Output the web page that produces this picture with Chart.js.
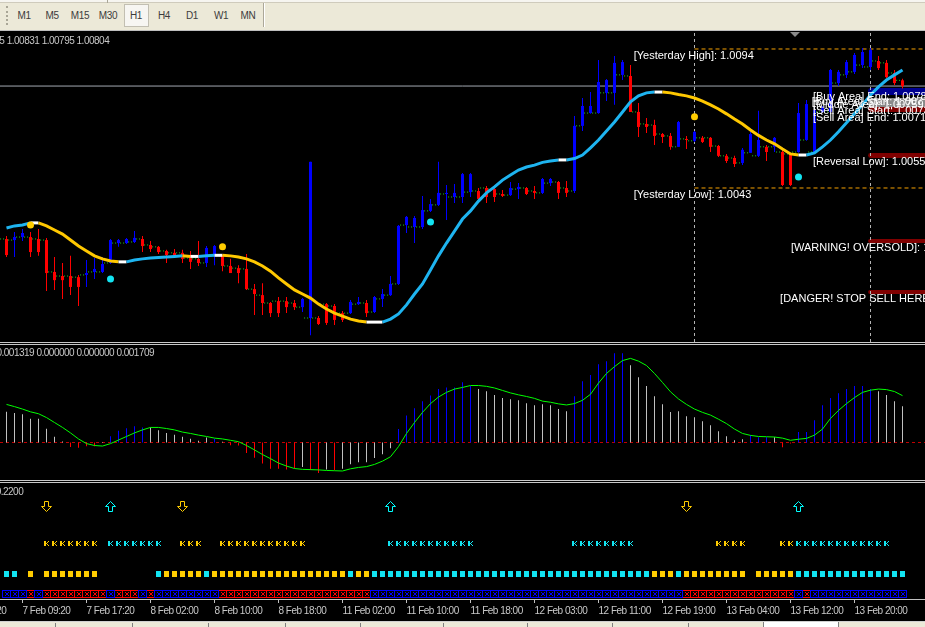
<!DOCTYPE html>
<html>
<head>
<meta charset="utf-8">
<title>H1 chart</title>
<script src="https://cdn.jsdelivr.net/npm/chart.js@4.4.1/dist/chart.umd.min.js"></script>
<style>
  html, body { margin: 0; padding: 0; width: 925px; height: 627px; overflow: hidden; background: #000; }
  #tb { position: absolute; left: 0; top: 0; width: 925px; height: 30px; background: #ECE9D8;
        font: 10px "Liberation Sans", sans-serif; letter-spacing: -0.4px; color: #3c3c3c; }
  #tb span { position: absolute; top: 10px; width: 28px; text-align: center; line-height: 12px; }
  .ln { position: absolute; left: 0; width: 925px; height: 1px; }
  .bx { position: absolute; }
  canvas { position: absolute; left: 0; }
</style>
</head>
<body>
<div id="tb">
  <div class="bx" style="left:0;top:0;width:925px;height:2px;background:#F6F5F0;border-bottom:1px solid #CFCBBC"></div>
  <div class="bx" style="left:107px;top:0;width:1px;height:3px;background:#A9A696"></div>
  <div class="bx" style="left:6px;top:6px;width:0;height:19px;border-left:2px dotted #A9A696"></div>
  <div class="bx" style="left:124px;top:4px;width:23px;height:21px;border:1px solid #C2BFB2;background:#F7F6F2"></div>
  <span style="left:10px">M1</span>
  <span style="left:38px">M5</span>
  <span style="left:66px">M15</span>
  <span style="left:94px">M30</span>
  <span style="left:122px">H1</span>
  <span style="left:150px">H4</span>
  <span style="left:178px">D1</span>
  <span style="left:207px">W1</span>
  <span style="left:234px">MN</span>
  <div class="bx" style="left:263px;top:3px;width:1px;height:24px;background:#ACA899"></div>
  <div class="bx" style="left:264px;top:3px;width:1px;height:24px;background:#FFFFFF"></div>
</div>
<div class="ln" style="top:30px;background:#BEBEBE"></div>
<canvas id="main" width="925" height="311" style="top:31px"></canvas>
<div class="ln" style="top:342px;background:#C8C8C8"></div>
<div class="ln" style="top:344px;background:#C8C8C8"></div>
<canvas id="osc" width="925" height="135" style="top:345px"></canvas>
<div class="ln" style="top:480px;background:#C8C8C8"></div>
<div class="ln" style="top:482px;background:#C8C8C8"></div>
<canvas id="sig" width="925" height="138" style="top:483px"></canvas>
<div class="ln" style="top:621px;background:#D0D0D0"></div>
<div class="bx" style="left:0;top:622px;width:925px;height:5px;background:#ECE9D8"></div>
<div class="bx" style="left:763px;top:622px;width:74px;height:5px;background:#FFFFFF;border-left:1px solid #808080;border-right:1px solid #808080"></div>
<div class="bx" style="left:55px;top:623px;width:1px;height:4px;background:#808080"></div>
<div class="bx" style="left:132px;top:623px;width:1px;height:4px;background:#808080"></div>
<div class="bx" style="left:208px;top:623px;width:1px;height:4px;background:#808080"></div>
<div class="bx" style="left:285px;top:623px;width:1px;height:4px;background:#808080"></div>
<div class="bx" style="left:360px;top:623px;width:1px;height:4px;background:#808080"></div>
<div class="bx" style="left:443px;top:623px;width:1px;height:4px;background:#808080"></div>
<div class="bx" style="left:527px;top:623px;width:1px;height:4px;background:#808080"></div>
<div class="bx" style="left:612px;top:623px;width:1px;height:4px;background:#808080"></div>
<div class="bx" style="left:688px;top:623px;width:1px;height:4px;background:#808080"></div>
<script>
// ---------- data (H1 bars, oldest first) ----------
const open = [
  1.00243,1.00239,1.00250,1.00250,1.00243,1.00239,1.00122,1.00107,1.00107,1.00103,
  1.00111,1.00122,1.00122,1.00155,1.00228,1.00228,1.00232,1.00243,1.00221,1.00214,
  1.00199,1.00192,1.00192,1.00173,1.00170,1.00155,1.00181,1.00181,1.00144,1.00136,
  1.00133,1.00059,1.00037,1.00008,1.00015,1.00015,1.00008,0.99993,0.99953,0.99953,
  1.00004,0.99997,0.99971,0.99971,1.00004,1.00008,0.99975,1.00023,1.00037,1.00078,
  1.00294,1.00287,1.00287,1.00346,1.00368,1.00408,1.00397,1.00397,1.00415,1.00419,
  1.00430,1.00426,1.00408,1.00404,1.00426,1.00430,1.00419,1.00412,1.00448,1.00452,
  1.00430,1.00419,1.00658,1.00705,1.00705,1.00779,1.00779,1.00845,1.00841,1.00709,
  1.00665,1.00661,1.00628,1.00621,1.00581,1.00610,1.00603,1.00614,1.00614,1.00584,
  1.00548,1.00540,1.00522,1.00559,1.00548,1.00581,1.00581,1.00562,1.00555,1.00562,
  1.00606,1.00562,1.00709,1.00709,1.00815,1.00845,1.00856,1.00881,1.00874,1.00896,
  1.00889,1.00852,1.00825];
const high = [
  1.00254,1.00269,1.00280,1.00269,1.00280,1.00247,1.00177,1.00155,1.00181,1.00111,
  1.00166,1.00173,1.00177,1.00243,1.00243,1.00247,1.00272,1.00254,1.00236,1.00217,
  1.00203,1.00206,1.00203,1.00199,1.00236,1.00217,1.00221,1.00184,1.00170,1.00147,
  1.00188,1.00078,1.00081,1.00012,1.00030,1.00030,1.00019,1.00026,1.00526,0.99960,
  1.00008,1.00004,0.99979,1.00019,1.00030,1.00019,1.00034,1.00059,1.00107,1.00294,
  1.00327,1.00327,1.00401,1.00390,1.00526,1.00441,1.00445,1.00485,1.00485,1.00430,
  1.00437,1.00430,1.00423,1.00452,1.00448,1.00434,1.00437,1.00467,1.00467,1.00456,
  1.00456,1.00694,1.00760,1.00782,1.00900,1.00830,1.00914,1.00900,1.00881,1.00742,
  1.00687,1.00680,1.00632,1.00632,1.00676,1.00621,1.00639,1.00621,1.00617,1.00588,
  1.00555,1.00548,1.00577,1.00636,1.00713,1.00588,1.00617,1.00570,1.00559,1.00742,
  1.00753,1.00724,1.00731,1.00867,1.00863,1.00900,1.00925,1.00944,1.00944,1.00914,
  1.00900,1.00863,1.00831];
const low = [
  1.00177,1.00177,1.00236,1.00177,1.00181,1.00052,1.00056,1.00023,1.00037,0.99997,
  1.00067,1.00096,1.00118,1.00151,1.00214,1.00225,1.00228,1.00195,1.00195,1.00188,
  1.00155,1.00177,1.00155,1.00133,1.00144,1.00140,1.00147,1.00125,1.00118,1.00081,
  1.00056,0.99964,0.99964,0.99957,0.99957,0.99971,0.99982,0.99975,0.99890,0.99927,
  0.99927,0.99927,0.99938,0.99968,1.00001,0.99957,0.99971,0.99993,1.00034,1.00074,
  1.00265,1.00228,1.00280,1.00342,1.00364,1.00313,1.00375,1.00375,1.00397,1.00379,
  1.00375,1.00379,1.00397,1.00401,1.00390,1.00404,1.00390,1.00408,1.00437,1.00390,
  1.00397,1.00412,1.00639,1.00702,1.00702,1.00749,1.00735,1.00826,1.00709,1.00617,
  1.00632,1.00588,1.00595,1.00570,1.00581,1.00573,1.00599,1.00595,1.00562,1.00544,
  1.00522,1.00507,1.00514,1.00559,1.00544,1.00529,1.00562,1.00437,1.00437,1.00559,
  1.00603,1.00559,1.00705,1.00705,1.00804,1.00834,1.00848,1.00870,1.00863,1.00863,
  1.00834,1.00808,1.00795];
const close = [
  1.00184,1.00250,1.00265,1.00195,1.00195,1.00118,1.00092,1.00092,1.00067,1.00067,
  1.00118,1.00133,1.00151,1.00239,1.00239,1.00243,1.00247,1.00217,1.00206,1.00195,
  1.00184,1.00184,1.00170,1.00159,1.00155,1.00210,1.00217,1.00144,1.00118,1.00118,
  1.00059,1.00041,1.00008,0.99971,0.99971,0.99993,0.99993,1.00023,1.00526,0.99931,
  0.99935,0.99946,0.99946,1.00012,1.00012,0.99971,1.00030,1.00041,1.00078,1.00291,
  1.00324,1.00320,1.00349,1.00371,1.00412,1.00412,1.00412,1.00481,1.00481,1.00390,
  1.00397,1.00397,1.00401,1.00430,1.00434,1.00408,1.00412,1.00463,1.00463,1.00412,
  1.00412,1.00658,1.00731,1.00731,1.00819,1.00826,1.00889,1.00892,1.00709,1.00654,
  1.00654,1.00621,1.00617,1.00581,1.00672,1.00606,1.00636,1.00599,1.00581,1.00548,
  1.00529,1.00518,1.00570,1.00628,1.00606,1.00562,1.00614,1.00441,1.00441,1.00705,
  1.00738,1.00716,1.00724,1.00863,1.00856,1.00892,1.00918,1.00929,1.00936,1.00870,
  1.00837,1.00815,1.00804];
// smoothed moving average (yellow/blue line)
const ma = [
  1.00283,1.00291,1.00294,1.00302,1.00302,1.00291,1.00276,1.00261,1.00239,1.00217,
  1.00199,1.00181,1.00170,1.00162,1.00159,1.00159,1.00166,1.00170,1.00173,1.00175,
  1.00177,1.00179,1.00181,1.00179,1.00179,1.00181,1.00183,1.00183,1.00181,1.00177,
  1.00170,1.00159,1.00144,1.00125,1.00100,1.00078,1.00056,1.00041,1.00026,1.00004,
  0.99986,0.99971,0.99960,0.99949,0.99942,0.99938,0.99938,0.99938,0.99949,0.99968,
  1.00001,1.00041,1.00078,1.00129,1.00181,1.00228,1.00272,1.00316,1.00346,1.00382,
  1.00412,1.00434,1.00459,1.00478,1.00496,1.00507,1.00514,1.00524,1.00529,1.00533,
  1.00533,1.00538,1.00551,1.00577,1.00606,1.00639,1.00672,1.00709,1.00746,1.00768,
  1.00779,1.00782,1.00782,1.00779,1.00773,1.00768,1.00760,1.00749,1.00735,1.00720,
  1.00702,1.00683,1.00665,1.00643,1.00623,1.00606,1.00592,1.00573,1.00555,1.00551,
  1.00551,1.00559,1.00581,1.00606,1.00636,1.00669,1.00702,1.00735,1.00771,1.00801,
  1.00826,1.00845,1.00863];
const goldDotBars = [3, 27, 86];
const goldDotPrice = [1.00294, 1.00214, 1.00691];
const aquaDotBars = [13, 53, 99];
const aquaDotPrice = [1.00096, 1.00305, 1.00470];

const bidPrice = 1.00804;
const yesterdayHigh = 1.0094;
const yesterdayLow = 1.0043;
const daySeparatorBars = [86, 108];
const zoneNames = ['[Buy Area] End', '[Buy Area] Start', '[Middle Area]', '[Sell Area] Start',
                   '[Sell Area] End', '[Reversal Low]', '[WARNING! OVERSOLD]', '[DANGER! STOP SELL HERE!]'];
const zoneLevels = [1.00788, 1.00771, 1.00759, 1.00739, 1.00712, 1.00553, 1.00236, 1.00048];
const zoneLabelBar = [100.8, 100.65, 100.8, 100.8, 100.8, 100.8, 98.06, 96.7];
const bandTop =    [1.00797, 1.00760, 1.00727, 1.00558, 1.00243, 1.00056];
const bandBottom = [1.00771, 1.00727, 1.00709, 1.00540, 1.00228, 1.00041];
const bandStartBar = 107.7;

// oscillator histogram + signal
const hist = [
  0.00112,0.00108,0.00103,0.00087,0.00087,0.00050,0.00021,0.00004,-0.00016,-0.00019,
  -0.00014,-0.00014,-0.00002,0.00023,0.00043,0.00052,0.00059,0.00055,0.00055,0.00045,
  0.00035,0.00028,0.00021,0.00014,0.00006,0.00018,0.00014,0.00003,-0.00010,-0.00011,
  -0.00038,-0.00056,-0.00077,-0.00096,-0.00096,-0.00099,-0.00095,-0.00089,-0.00100,-0.00111,
  -0.00099,-0.00101,-0.00096,-0.00079,-0.00072,-0.00072,-0.00057,-0.00043,-0.00021,0.00049,
  0.00099,0.00125,0.00151,0.00172,0.00195,0.00201,0.00201,0.00220,0.00206,0.00195,
  0.00187,0.00173,0.00162,0.00158,0.00154,0.00143,0.00136,0.00140,0.00136,0.00122,
  0.00114,0.00169,0.00224,0.00246,0.00286,0.00297,0.00326,0.00326,0.00282,0.00238,
  0.00206,0.00169,0.00140,0.00111,0.00114,0.00096,0.00092,0.00078,0.00063,0.00041,
  0.00023,0.00008,0.00012,0.00027,0.00019,0.00019,0.00019,-0.00017,-0.00004,0.00038,
  0.00038,0.00081,0.00136,0.00162,0.00180,0.00195,0.00206,0.00206,0.00195,0.00187,
  0.00173,0.00151,0.00132];
const signal = [
  0.00139,0.00131,0.00122,0.00112,0.00105,0.00091,0.00073,0.00055,0.00035,0.00013,
  -0.00004,-0.00011,-0.00013,-0.00004,0.00009,0.00022,0.00035,0.00046,0.00055,0.00055,
  0.00051,0.00046,0.00038,0.00033,0.00027,0.00022,0.00016,0.00013,0.00008,0.00003,
  -0.00011,-0.00027,-0.00044,-0.00059,-0.00075,-0.00086,-0.00095,-0.00098,-0.00099,-0.00100,
  -0.00102,-0.00103,-0.00104,-0.00096,-0.00091,-0.00088,-0.00080,-0.00068,-0.00052,-0.00015,
  0.00033,0.00073,0.00110,0.00142,0.00166,0.00183,0.00195,0.00201,0.00208,0.00208,
  0.00205,0.00199,0.00190,0.00181,0.00174,0.00168,0.00161,0.00151,0.00147,0.00141,
  0.00137,0.00142,0.00154,0.00176,0.00217,0.00252,0.00277,0.00299,0.00307,0.00297,
  0.00281,0.00252,0.00219,0.00185,0.00159,0.00139,0.00122,0.00110,0.00100,0.00085,
  0.00069,0.00049,0.00033,0.00026,0.00022,0.00021,0.00020,0.00016,0.00008,0.00012,
  0.00015,0.00027,0.00049,0.00088,0.00117,0.00142,0.00164,0.00183,0.00191,0.00195,
  0.00193,0.00186,0.00171];
// bar state runs: B = blue (rising), G = grey, R = red
const histRuns = [['G',8],['R',4],['G',1],['B',5],['G',8],['B',1],['G',1],['R',9],['G',1],['R',2],['G',1],
                  ['R',1],['G',7],['B',10],['G',12],['B',7],['G',15],['B',3],['G',1],['R',2],['B',10],['G',4]];

// signal panel
const arrowDownBars = [5, 22, 85];
const arrowUpBars = [13, 48, 99];
const kGoldBars = [5,6,7,8,9,10,11,22,23,24,27,28,29,30,31,32,33,34,35,36,37,89,90,91,92,97,98];
const kAquaBars = [13,14,15,16,17,18,19,48,49,50,51,52,53,54,55,56,57,58,71,72,73,74,75,76,77,78,
                   99,100,101,102,103,104,105,106,107,108,109,110];
// square row: C = aqua, G = gold, - = none
const squareRuns = [['C',2],['-',1],['G',1],['-',1],['G',7],['-',7],['C',1],['G',5],['C',1],['G',17],['C',1],
                    ['G',2],['C',35],['G',3],['C',1],['G',8],['-',1],['G',5],['C',14]];
// boxed row: B = blue, R = red
const boxRuns = [['B',3],['R',1],['B',1],['R',8],['B',1],['R',3],['B',1],['R',1],['B',8],['R',19],['B',39],
                 ['R',14],['B',1],['R',1],['B',12]];

const timeTickBars = [-6, 2, 10, 18, 26, 34, 42, 50, 58, 66, 74, 82, 90, 98, 106];
const timeTickLabels = ['7 Feb 01:20', '7 Feb 09:20', '7 Feb 17:20', '8 Feb 02:00', '8 Feb 10:00', '8 Feb 18:00',
                        '11 Feb 02:00', '11 Feb 10:00', '11 Feb 18:00', '12 Feb 03:00', '12 Feb 11:00',
                        '12 Feb 19:00', '13 Feb 04:00', '13 Feb 12:00', '13 Feb 20:00'];

// ---------- helpers ----------
const X_MIN = -0.8125, X_MAX = 114.8125;
const BLUE = '#0000FF', RED = '#FF0000', SILVER = '#C0C0C0', LIME = '#00FF00';
const MA_AQUA = '#1EB4F0', MA_GOLD = '#FFC800', GOLD = '#FFCC00', AQUA = '#12E4F2';
const SMALL = '"Liberation Sans", Arial, sans-serif';
const LABEL_FONT = '11px "Liberation Sans", Arial, sans-serif';

const expand = runs => runs.flatMap(([s, n]) => Array(n).fill(s));
const histState = expand(histRuns);
const squareState = expand(squareRuns);
const boxState = expand(boxRuns);

function sprite(w, h, draw) {
  const c = document.createElement('canvas');
  c.width = w; c.height = h;
  draw(c.getContext('2d'));
  return c;
}
function boxSprite(col) {
  return sprite(9, 8, g => {
    g.fillStyle = col; g.fillRect(0, 0, 9, 8);
    g.fillStyle = '#000'; g.fillRect(1, 1, 7, 6);
    g.fillStyle = col;
    [[3,2],[6,2],[4,3],[5,3],[4,4],[5,4],[3,5],[6,5]].forEach(([a, b]) => g.fillRect(a, b, 1, 1));
  });
}
function squareSprite(col) { return sprite(5, 6, g => { g.fillStyle = col; g.fillRect(0, 0, 5, 6); }); }
function kSprite(col) {
  return sprite(5, 6, g => {
    g.fillStyle = col;
    ['XX..X', 'XX.X.', 'XXX..', 'XX.X.', 'XX..X'].forEach((row, r) =>
      row.split('').forEach((ch, c) => { if (ch === 'X') g.fillRect(c, r, 1, 1); }));
  });
}
function arrowSprite(col, up) {
  return sprite(11, 12, g => {
    const pts = [[3.5,0.5],[7.5,0.5],[7.5,5.5],[10.5,5.5],[5.5,10.5],[0.5,5.5],[3.5,5.5]];
    g.strokeStyle = col; g.lineWidth = 1;
    g.beginPath();
    pts.forEach(([a, b], k) => { const yy = up ? 11 - b : b; k ? g.lineTo(a, yy) : g.moveTo(a, yy); });
    g.closePath(); g.stroke();
  });
}

const overlay = {
  id: 'overlay',
  beforeDraw(chart, args, o) {
    // tighter text for the small MT4-style labels (tick labels, headers)
    if (o.tight && 'letterSpacing' in chart.ctx) chart.ctx.letterSpacing = '-0.5px';
  },
  beforeDatasetsDraw(chart, args, o) {
    if (!o.bands) return;
    const {ctx, chartArea, scales: {x, y}} = chart;
    ctx.save();
    o.bands.forEach(b => {
      const x0 = x.getPixelForValue(b.from);
      const y0 = y.getPixelForValue(b.top), y1 = y.getPixelForValue(b.bottom);
      const h = y1 - y0, r = Math.min(h / 2, 3);
      ctx.fillStyle = b.color;
      ctx.beginPath();
      if (ctx.roundRect) ctx.roundRect(x0, y0, chartArea.right - x0 + 4, h, [r, 0, 0, r]);
      else ctx.rect(x0, y0, chartArea.right - x0 + 4, h);
      ctx.fill();
    });
    ctx.restore();
  },
  afterDatasetsDraw(chart, args, o) {
    const {ctx, scales: {x, y}} = chart;
    ctx.save();
    ctx.textBaseline = 'middle';
    if (o.header) {
      ctx.font = '10px ' + SMALL;
      if ('letterSpacing' in ctx) ctx.letterSpacing = '-0.5px';
      ctx.fillStyle = '#C8C8C8';
      const lead = ctx.measureText(o.header.lead).width;
      ctx.fillText(o.header.text, o.header.x - lead, o.header.y);
      if ('letterSpacing' in ctx) ctx.letterSpacing = '0px';
    }
    if (o.labels) {
      ctx.font = LABEL_FONT;
      ctx.fillStyle = '#FFFFFF';
      o.labels.forEach(l => ctx.fillText(l.text, x.getPixelForValue(l.bar), y.getPixelForValue(l.price) + 7));
    }
    if (o.shiftMark !== undefined) {
      const cx = x.getPixelForValue(o.shiftMark);
      ctx.fillStyle = '#8A8A8A';
      ctx.beginPath(); ctx.moveTo(cx - 5, 1); ctx.lineTo(cx + 5, 1); ctx.lineTo(cx, 6); ctx.closePath(); ctx.fill();
    }
    ctx.restore();
  }
};

function baseOptions(yMin, yMax, extra) {
  return Object.assign({
    responsive: false, animation: false, devicePixelRatio: 1, events: [],
    layout: {padding: 0, autoPadding: false},
    scales: {
      x: {type: 'linear', min: X_MIN, max: X_MAX, bounds: 'data', offset: false, display: false},
      y: {type: 'linear', min: yMin, max: yMax, bounds: 'data', display: false}
    }
  }, extra);
}
const hLine = (price, from, color, dash) => ({
  type: 'line', data: [{x: from, y: price}, {x: X_MAX, y: price}],
  borderColor: color, borderWidth: 1, borderDash: dash || [], pointRadius: 0, order: 30
});

// ---------- main price window ----------
const P_MIN = 0.99865, P_MAX = 1.01006;
const candleColors = open.map((o, i) => close[i] >= o ? BLUE : RED);
const openTicks = [];
open.forEach((o, i) => openTicks.push({x: i - 0.8, y: o}, {x: i - 0.2, y: o}, {x: i, y: null}));
const maSegColor = c => {
  const d = c.p1.parsed.y - c.p0.parsed.y;
  return Math.abs(d) < 0.000015 ? '#FFFFFF' : (d > 0 ? MA_AQUA : MA_GOLD);
};

new Chart(document.getElementById('main'), {
  type: 'bar',
  plugins: [overlay],
  data: {datasets: [
    hLine(bidPrice, X_MIN, '#A3A9B2'),
    hLine(yesterdayHigh, daySeparatorBars[0], '#F5A000', [4, 3]),
    hLine(yesterdayLow, daySeparatorBars[0], '#F5A000', [4, 3]),
    ...daySeparatorBars.map(b => ({type: 'line', data: [{x: b, y: P_MIN}, {x: b, y: P_MAX}],
      borderColor: '#B4B4B4', borderWidth: 1, borderDash: [3, 3], pointRadius: 0, order: 30})),
    {type: 'line', data: openTicks, borderColor: '#22D022', borderWidth: 1, borderDash: [1, 2],
     pointRadius: 0, spanGaps: false, order: 25},
    {data: open.map((o, i) => ({x: i, y: [low[i], high[i]]})), backgroundColor: candleColors,
     barThickness: 1, maxBarThickness: 1, grouped: false, inflateAmount: 0, order: 20},
    {data: open.map((o, i) => ({x: i, y: [Math.min(o, close[i]), Math.max(o, close[i])]})),
     backgroundColor: candleColors, barThickness: 3, maxBarThickness: 3, grouped: false,
     inflateAmount: 0, minBarLength: 1, order: 19},
    {type: 'line', data: ma.map((v, i) => ({x: i, y: v})), borderColor: MA_AQUA, borderWidth: 3,
     pointRadius: 0, segment: {borderColor: maSegColor}, order: 5},
    {type: 'line', showLine: false, data: goldDotBars.map((b, k) => ({x: b, y: goldDotPrice[k]})),
     pointRadius: 3.5, pointBackgroundColor: GOLD, pointBorderWidth: 0, order: 2},
    {type: 'line', showLine: false, data: aquaDotBars.map((b, k) => ({x: b, y: aquaDotPrice[k]})),
     pointRadius: 3.5, pointBackgroundColor: AQUA, pointBorderWidth: 0, order: 2}
  ]},
  options: baseOptions(P_MIN, P_MAX, {
    plugins: {
      legend: {display: false}, tooltip: {enabled: false},
      overlay: {
        header: {lead: '1.00825 ', text: '1.00825 1.00831 1.00795 1.00804', x: 6.7, y: 10},
        shiftMark: 98.56,
        bands: bandTop.map((t, k) => ({from: bandStartBar, top: t, bottom: bandBottom[k],
          color: ['#000090', '#8A8A8A', '#800000', '#800000', '#800000', '#800000'][k]})),
        labels: [
          {text: '[Yesterday High]: ' + yesterdayHigh.toFixed(4), bar: 78.4, price: yesterdayHigh},
          {text: '[Yesterday Low]: ' + yesterdayLow.toFixed(4), bar: 78.4, price: yesterdayLow},
          ...zoneNames.map((n, k) => ({text: n + ': ' + zoneLevels[k].toFixed(5), bar: zoneLabelBar[k], price: zoneLevels[k]}))
        ]
      }
    }
  })
});

// ---------- oscillator window ----------
const O_MIN = -0.00136875, O_MAX = 0.00355875;
const histColor = {B: BLUE, G: SILVER, R: RED};
new Chart(document.getElementById('osc'), {
  type: 'bar',
  plugins: [overlay],
  data: {datasets: [
    hLine(0, X_MIN, '#C00000', [3, 3]),
    {data: hist.map((v, i) => ({x: i, y: v})), backgroundColor: histState.map(s => histColor[s]),
     barThickness: 1, maxBarThickness: 1, grouped: false, inflateAmount: 0, order: 20},
    {type: 'line', data: signal.map((v, i) => ({x: i, y: v})), borderColor: LIME, borderWidth: 1,
     pointRadius: 0, order: 5}
  ]},
  options: baseOptions(O_MIN, O_MAX, {
    plugins: {legend: {display: false}, tooltip: {enabled: false},
      overlay: {header: {lead: '0', text: '0.001319 0.000000 0.000000 0.001709', x: 1.5, y: 8}}}
  })
});

// ---------- signal window with time axis ----------
const ROW = {arrow: 92, k: 55, square: 25, box: 5};
const pts = (bars, level) => bars.map(b => ({x: b, y: level}));
const idxOf = (states, s) => states.map((v, i) => v === s ? i : -1).filter(i => i >= 0);
const marks = (data, style) => ({type: 'line', showLine: false, data, pointStyle: style, pointRadius: 4, order: 5});

const sigOpts = baseOptions(0, 116, {
  plugins: {legend: {display: false}, tooltip: {enabled: false},
    overlay: {tight: true, header: {lead: '0', text: '0.2200', x: 0.7, y: 9}}}
});
sigOpts.scales.x = {
  type: 'linear', min: X_MIN, max: X_MAX, bounds: 'data', offset: false, display: true,
  border: {display: true, color: '#C0C0C0', width: 1},
  grid: {display: true, drawOnChartArea: false, drawTicks: true, tickLength: 4, color: '#C0C0C0'},
  ticks: {autoSkip: false, maxRotation: 0, minRotation: 0, align: 'start', padding: 2, color: '#C8C8C8',
          font: {family: SMALL, size: 10}, callback: (v, idx) => timeTickLabels[idx]},
  afterBuildTicks: s => { s.ticks = timeTickBars.map(v => ({value: v})); },
  afterFit: s => { s.height = 22; s.paddingLeft = 0; s.paddingRight = 0; }
};

new Chart(document.getElementById('sig'), {
  type: 'line',
  plugins: [overlay],
  data: {datasets: [
    marks(pts(idxOf(boxState, 'B'), ROW.box), boxSprite(BLUE)),
    marks(pts(idxOf(boxState, 'R'), ROW.box), boxSprite(RED)),
    marks(pts(idxOf(squareState, 'G'), ROW.square), squareSprite(GOLD)),
    marks(pts(idxOf(squareState, 'C'), ROW.square), squareSprite(AQUA)),
    marks(pts(kGoldBars, ROW.k), kSprite(GOLD)),
    marks(pts(kAquaBars, ROW.k), kSprite(AQUA)),
    marks(pts(arrowDownBars, ROW.arrow), arrowSprite(GOLD, false)),
    marks(pts(arrowUpBars, ROW.arrow), arrowSprite('#00FFFF', true))
  ]},
  options: sigOpts
});
</script>
</body>
</html>
